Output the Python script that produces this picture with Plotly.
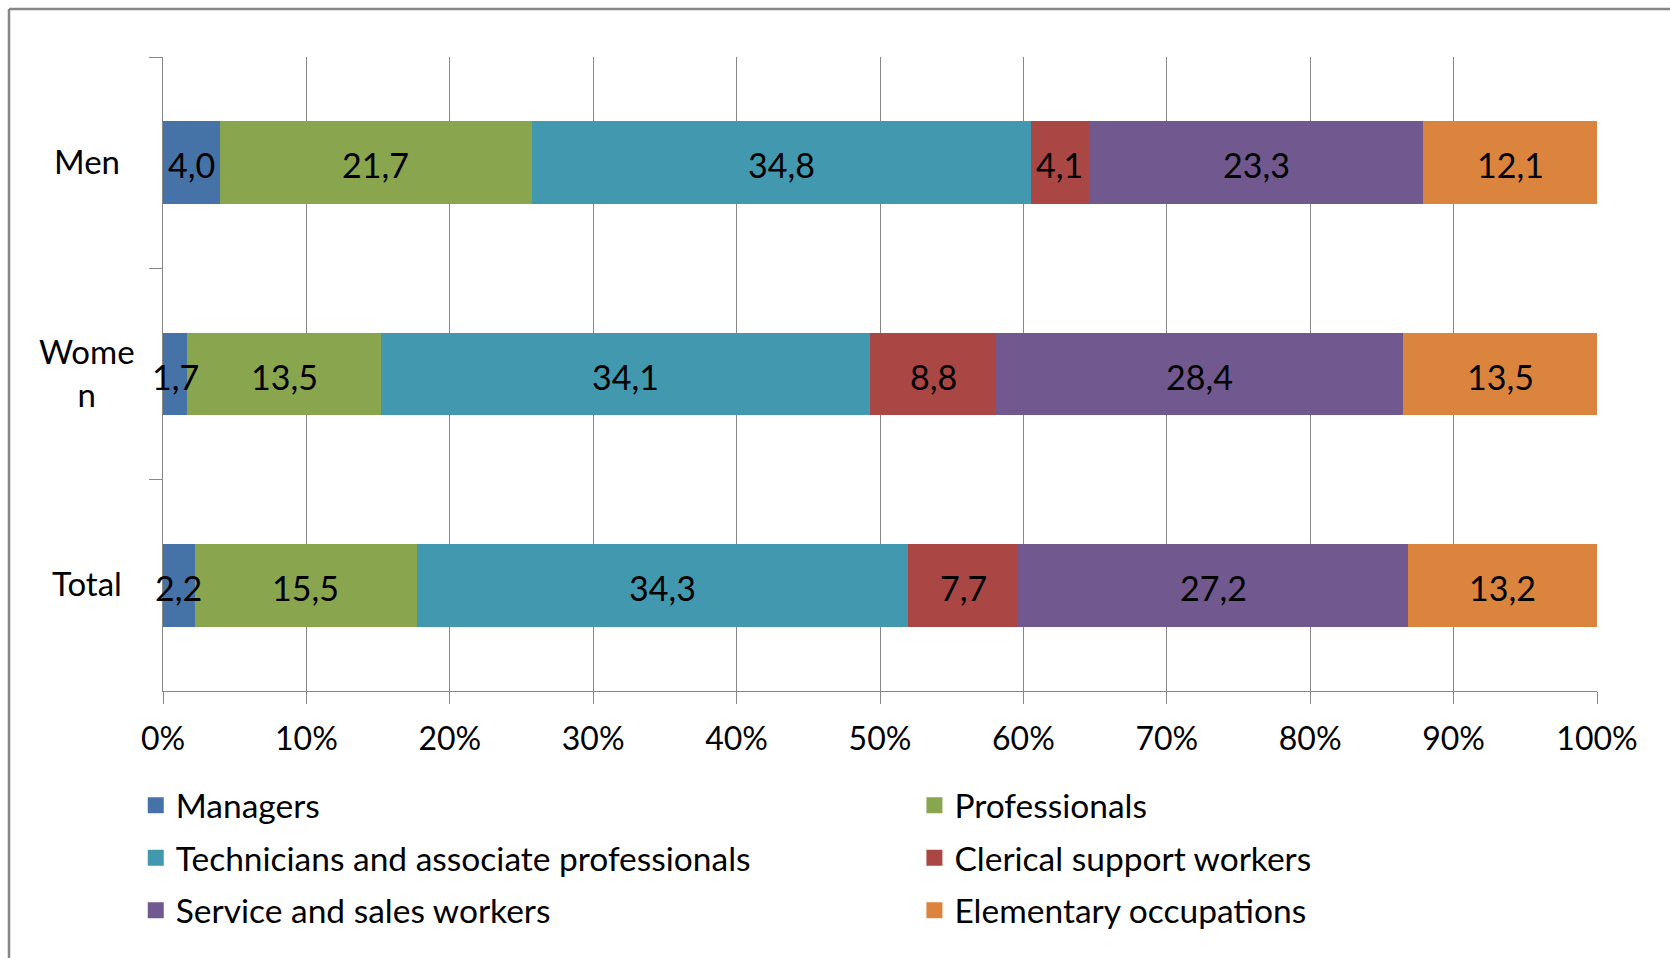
import plotly.graph_objects as go

categories = ["Men", "Women", "Total"]
category_labels = ["Men", "Wome<br>n", "Total"]
series_names = [
    "Managers",
    "Professionals",
    "Technicians and associate professionals",
    "Clerical support workers",
    "Service and sales workers",
    "Elementary occupations",
]
managers = [4.0, 1.7, 2.2]
professionals = [21.7, 13.5, 15.5]
technicians = [34.8, 34.1, 34.3]
clerical = [4.1, 8.8, 7.7]
service = [23.3, 28.4, 27.2]
elementary = [12.1, 13.5, 13.2]
series_values = [managers, professionals, technicians, clerical, service, elementary]
colors = ["#4572A7", "#89A54E", "#4198AF", "#AA4643", "#71588F", "#DB843D"]
legend_columns = ["legend", "legend2", "legend", "legend2", "legend", "legend2"]
x_tick_values = list(range(0, 101, 10))
x_tick_labels = [f"{v}%" for v in x_tick_values]

FONT = "Lato"
GRID = "#878787"

# 100% stacked: normalise each category to its total
totals = [sum(s[i] for s in series_values) for i in range(len(categories))]
shares = [[v / t * 100 for v, t in zip(vals, totals)] for vals in series_values]

fig = go.Figure()
for name, sh, col in zip(series_names, shares, colors):
    fig.add_trace(go.Bar(
        y=categories, x=sh, orientation="h", name=name,
        marker=dict(color=col, line=dict(width=0)),
        showlegend=False, hoverinfo="skip",
    ))

# data labels drawn above all bars (so overflowing labels stay visible)
for ci, cat in enumerate(categories):
    base = 0.0
    for vals, sh in zip(series_values, shares):
        fig.add_annotation(
            x=base + sh[ci] / 2, xref="x", y=cat, yref="y",
            text=f"{vals[ci]:.1f}".replace(".", ","), showarrow=False,
            xanchor="center", yanchor="middle", yshift=-2,
            font=dict(family=FONT, size=34, color="black"),
        )
        base += sh[ci]

# legend entries (two columns) with larger square swatches
for name, col, lg in zip(series_names, colors, legend_columns):
    fig.add_trace(go.Scatter(
        x=[None], y=[None], mode="markers", name=name,
        marker=dict(symbol="square", size=19, color=col),
        showlegend=True, legend=lg, legendgroup=name,
    ))

for cat, lab in zip(categories, category_labels):
    fig.add_annotation(
        x=-0.053, xref="paper", y=cat, yref="y",
        text=lab, showarrow=False, xanchor="center", yanchor="middle",
        yshift=2, align="center", font=dict(family=FONT, size=33, color="black"),
    )

# outer chart border (left and top edges visible)
fig.add_shape(type="line", xref="paper", yref="paper",
              x0=(9 - 163) / 1434, x1=(9 - 163) / 1434,
              y0=(691 - 9) / 634, y1=(691 - 980) / 634,
              line=dict(color="#868686", width=2.5))
fig.add_shape(type="line", xref="paper", yref="paper",
              x0=(9 - 163) / 1434, x1=(1690 - 163) / 1434,
              y0=(691 - 9) / 634, y1=(691 - 9) / 634,
              line=dict(color="#868686", width=2.5))

legend_common = dict(
    orientation="v", xanchor="left", yref="container", y=0.189, yanchor="top",
    font=dict(family=FONT, size=33.5, color="black"),
    itemsizing="trace", traceorder="grouped", tracegroupgap=6,
    bgcolor="rgba(0,0,0,0)",
)

fig.update_layout(
    width=1670, height=958,
    margin=dict(l=163, r=73, t=57, b=267, autoexpand=False),
    paper_bgcolor="white", plot_bgcolor="white",
    barmode="stack", bargap=0.61,
    font=dict(family=FONT, size=30, color="black"),
    legend=dict(x=-0.019, **legend_common),
    legend2=dict(x=0.524, **legend_common),
    xaxis=dict(
        range=[0, 100], tickmode="array", tickvals=x_tick_values, ticktext=x_tick_labels,
        showgrid=True, gridcolor=GRID, gridwidth=1.3,
        showline=True, linecolor=GRID, linewidth=1.3,
        ticks="outside", ticklen=12, tickcolor=GRID, tickwidth=1.3,
        ticklabelstandoff=7,
        tickfont=dict(family=FONT, size=32, color="black"),
        zeroline=False, fixedrange=True,
    ),
    yaxis=dict(
        categoryorder="array", categoryarray=categories, autorange="reversed",
        showticklabels=False, tickson="boundaries",
        ticks="outside", ticklen=13, tickcolor=GRID, tickwidth=1.3,
        showline=True, linecolor=GRID, linewidth=1.3,
        showgrid=False, zeroline=False, fixedrange=True,
    ),
)

fig.write_html("out.html")
